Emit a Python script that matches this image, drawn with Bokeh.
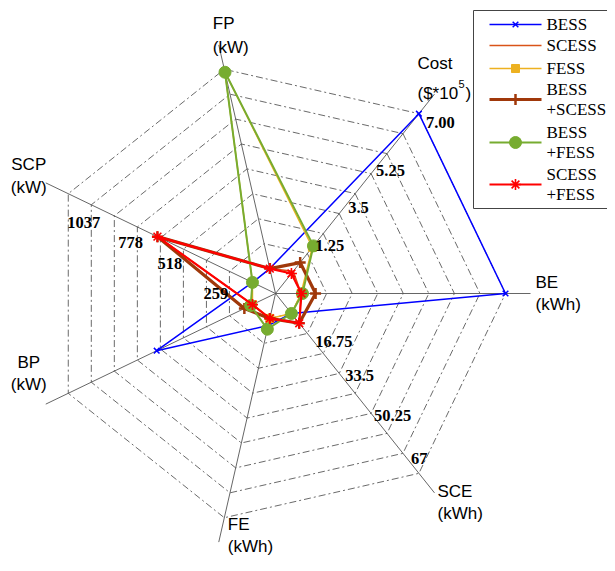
import numpy as np
from bokeh.plotting import figure
from bokeh.models import Range1d
from bokeh.embed import file_html
from bokeh.resources import INLINE
from bokeh.core.properties import value

# ---------------- data ----------------
AXES = ["Cost", "BE", "SCE", "FE", "BP", "SCP", "FP"]
AXIS_UNITS = ["($*10", "(kWh)", "(kWh)", "(kWh)", "(kW)", "(kW)", "(kW)"]
AXIS_MAX = [7.00, 1.0, 67.0, 1.0, 1.0, 1037.0, 1.0]   # BE, FE, BP, FP shown normalised (no scale printed)

COST_TICKS = ["1.25", "3.5", "5.25", "7.00"]
SCE_TICKS = ["16.75", "33.5", "50.25", "67"]
SCP_TICKS = ["259", "518", "778", "1037"]
TICK_FRACTIONS = [0.25, 0.5, 0.75, 1.0]

SERIES_NAMES = ["BESS", "SCESS", "FESS", "BESS\n+SCESS", "BESS\n+FESS", "SCESS\n+FESS"]
BESS = [7.00, 1.00, 0.0, 0.036, 0.52, 0.0, 0.0]
SCESS = [0.10, 0.0, 4.1, 0.0, 0.0, 535.0, 0.0]
FESS = [1.15, 0.0, 0.0, 0.0, 0.0, 0.0, 0.985]
BESS_SCESS = [0.48, 0.071, 4.1, 0.0, 0.044, 535.0, 0.0]
BESS_FESS = [1.21, 0.007, 0.0, 0.054, 0.01, 0.0, 0.985]
SCESS_FESS = [0.0, 0.002, 4.1, 0.0, 0.0, 535.0, 0.0]
SERIES_VALUES = [BESS, SCESS, FESS, BESS_SCESS, BESS_FESS, SCESS_FESS]

# ---------------- styles ----------------
STYLES = [
    dict(color="#0000FF", width=1.5, marker="x", size=8, mlw=1.5, fill=False),
    dict(color="#D95319", width=1.5, marker=None, size=0, mlw=1, fill=False),
    dict(color="#EDB120", width=1.5, marker="square", size=8, mlw=1, fill=True),
    dict(color="#A0380A", width=3.2, marker="cross", size=11, mlw=2.5, fill=False),
    dict(color="#77AC30", width=2.0, marker="circle", size=12, mlw=1, fill=True),
    dict(color="#FF0000", width=2.2, marker="asterisk", size=11, mlw=1.6, fill=False),
]

W, H = 607, 555
CX, CY = 275, 293          # centre of the web, figure pixels from top-left
R = 230.0                  # outer ring radius (px)
N_RINGS = 9
R_AXIS = 255.0

p = figure(width=W, height=H, output_backend="svg", toolbar_location=None,
           x_range=Range1d(-CX, W - CX), y_range=Range1d(-(H - CY), CY),
           x_axis_location=None, y_axis_location=None, min_border=0,
           outline_line_color=None, background_fill_color="white")
p.grid.grid_line_color = None

n = len(AXES)
ang = np.deg2rad(360.0 / n * (1 - np.arange(n)))
ca, sa = np.cos(ang), np.sin(ang)


def radius(v, vmax):
    return R * (1 + (N_RINGS - 1) * v / vmax) / N_RINGS


# rings
ring_xs, ring_ys = [], []
for k in range(1, N_RINGS + 1):
    rr = R * k / N_RINGS
    ring_xs.append(list(np.append(rr * ca, rr * ca[0])))
    ring_ys.append(list(np.append(rr * sa, rr * sa[0])))
p.multi_line(ring_xs, ring_ys, line_color="#2a2a2a", line_width=0.7, line_dash="7 3 2 3")

# spokes
p.segment(x0=[0] * n, y0=[0] * n, x1=list(R_AXIS * ca), y1=list(R_AXIS * sa),
          line_color="#555555", line_width=0.9)

# series
for vals, st in zip(SERIES_VALUES, STYLES):
    r = np.array([radius(v, m) for v, m in zip(vals, AXIS_MAX)])
    x = r * ca
    y = r * sa
    p.line(list(np.append(x, x[0])), list(np.append(y, y[0])), line_color=st["color"],
           line_width=st["width"])
    if st["marker"]:
        p.scatter(list(x), list(y), marker=st["marker"], size=st["size"],
                  line_color=st["color"], line_width=st["mlw"],
                  fill_color=st["color"] if st["fill"] else None)

# tick labels (positions from value radius + small screen nudges)
TICK_NUDGE = {
    0: [(-8, -12), (-7, -14), (-11, -17), (7, -9)],
    2: [(-8, 12), (-10, 18), (-13, 18), (-8, 15)],
    5: [(-3, -33), (-3, -25), (4, -27), (-1, -29)],
}
TICK_TEXT = {0: COST_TICKS, 2: SCE_TICKS, 5: SCP_TICKS}
tx, ty, tt = [], [], []
for ai, labels in TICK_TEXT.items():
    for f, lab, (dx, dy) in zip(TICK_FRACTIONS, labels, TICK_NUDGE[ai]):
        rr = radius(f * AXIS_MAX[ai], AXIS_MAX[ai])
        tx.append(rr * ca[ai] + dx)
        ty.append(rr * sa[ai] + dy)
        tt.append(lab)
p.text(tx, ty, text=tt, text_font=value("Liberation Serif"), text_font_style="bold",
       text_font_size="16.5px", text_align="left", text_baseline="middle", text_color="black")

# axis labels: (align, dx, dy line1, dy line2) relative to spoke end
AXLAB = {
    0: ("left", -17, 31, 1),
    1: ("left", 5, 11, -11),
    2: ("left", 3, 1, -21),
    3: ("left", 9, 18, -4),
    4: ("center", -17, 42, 20),
    5: ("center", -17, 18, -5),
    6: ("left", -6, 21, -3),
}
for ai, (al, dx, d1, d2) in AXLAB.items():
    ex, ey = R_AXIS * ca[ai], R_AXIS * sa[ai]
    p.text([ex + dx], [ey + d1], text=[AXES[ai]], text_font=value("Liberation Sans"),
           text_font_size="17px", text_align=al, text_baseline="middle", text_color="black")
    p.text([ex + dx], [ey + d2], text=[AXIS_UNITS[ai]], text_font=value("Liberation Sans"),
           text_font_size="17px", text_align=al, text_baseline="middle", text_color="black")
# superscript for cost unit
ex, ey = R_AXIS * ca[0], R_AXIS * sa[0]
p.text([ex - 17 + 41], [ey + 1 + 9], text=["5"], text_font=value("Liberation Sans"),
       text_font_size="11px", text_align="left", text_baseline="middle", text_color="black")
p.text([ex - 17 + 48], [ey + 1], text=[")"], text_font=value("Liberation Sans"),
       text_font_size="17px", text_align="left", text_baseline="middle", text_color="black")

# legend (drawn by hand, screen-pixel layout)
LX0, LTOP, LBOT = 198, 283, 85
p.quad(left=[LX0], right=[W - CX + 20], top=[LTOP], bottom=[LBOT], fill_color="white",
       line_color="#444444", line_width=1)
entry_y = [269, 248, 225, 194, 151, 109]
for name, st, ey in zip(SERIES_NAMES, STYLES, entry_y):
    p.line([214, 266], [ey, ey], line_color=st["color"], line_width=st["width"])
    if st["marker"]:
        p.scatter([240], [ey], marker=st["marker"], size=st["size"], line_color=st["color"],
                  line_width=st["mlw"], fill_color=st["color"] if st["fill"] else None)
    lines = name.split("\n")
    if len(lines) == 1:
        ys = [ey]
    else:
        ys = [ey + 10, ey - 10]
    p.text([271] * len(lines), ys, text=lines, text_font=value("Liberation Serif"),
           text_font_size="17px", text_align="left", text_baseline="middle", text_color="black")

open("out.html", "w").write(file_html(p, INLINE))
